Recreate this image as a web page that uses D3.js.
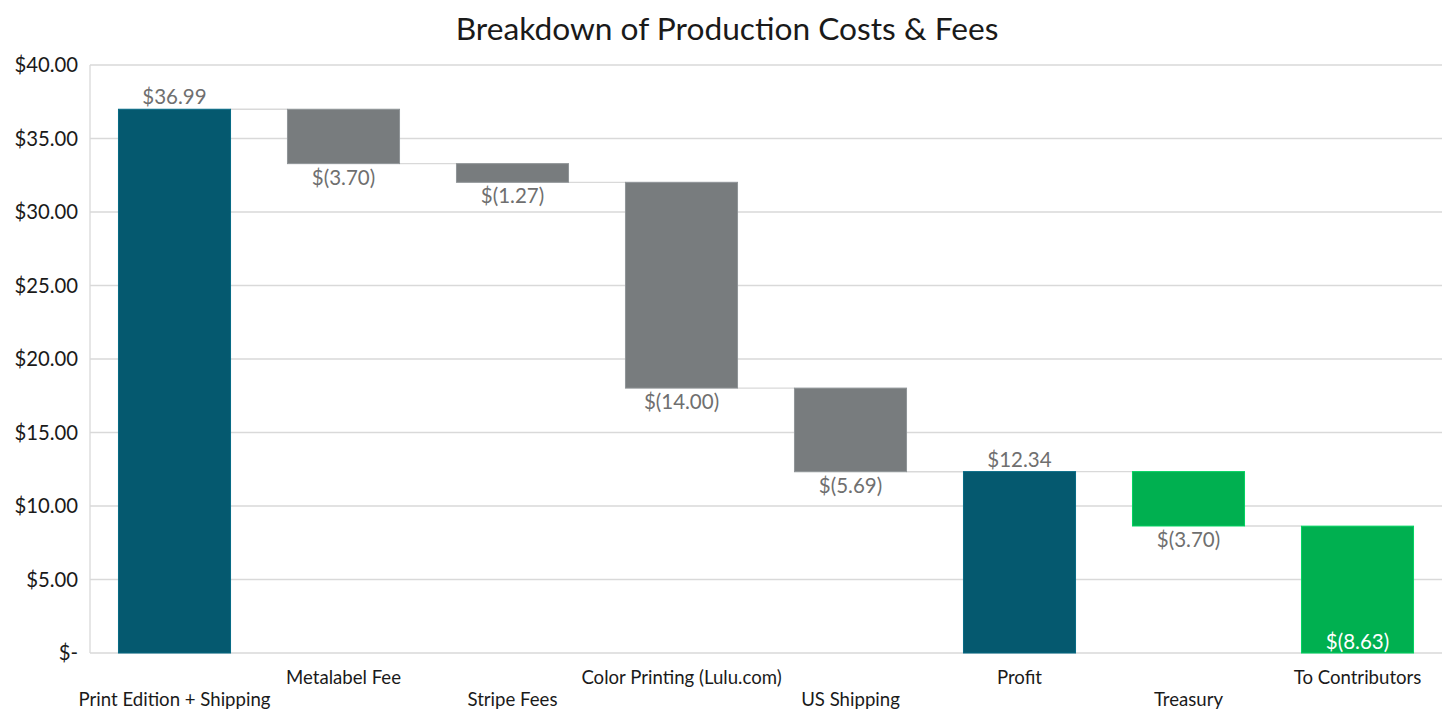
<!DOCTYPE html>
<html><head><meta charset="utf-8">
<script src="https://cdn.jsdelivr.net/npm/d3@7"></script>
<style>body{margin:0;background:#fff;font-family:Lato,"Open Sans",sans-serif;}</style>
</head><body><svg id="c" width="1456" height="720"></svg>
<script>
const title = "Breakdown of Production Costs & Fees";
const categories = ["Print Edition + Shipping","Metalabel Fee","Stripe Fees","Color Printing (Lulu.com)","US Shipping","Profit","Treasury","To Contributors"];
const values = [36.99, -3.70, -1.27, -14.00, -5.69, 12.34, -3.70, -8.63];
const kinds = ["total","cost","cost","cost","cost","total","split","final"];
const labels = ["$36.99","$(3.70)","$(1.27)","$(14.00)","$(5.69)","$12.34","$(3.70)","$(8.63)"];
const yTicks = [0,5,10,15,20,25,30,35,40];
const yTickLabels = ["$-","$5.00","$10.00","$15.00","$20.00","$25.00","$30.00","$35.00","$40.00"];

const colors = {total:"#05596f", cost:"#787c7e", split:"#00b050", final:"#00b050"};
const svg = d3.select("#c");
const L=90,R=1442,T=65,B=653;
const x = d3.scaleBand().domain(categories).range([L,R]).paddingInner(0.337).paddingOuter(0.1685);
const y = d3.scaleLinear().domain([0,40]).range([B,T]);

let run=0; const segs=[];
values.forEach((v,i)=>{
  const k=kinds[i];
  if(k==="total"){ run=v; segs.push({y0:0,y1:v}); }
  else if(k==="final"){ segs.push({y0:0,y1:-v}); run=-v; }
  else { const s=run; run=run+v; segs.push({y0:run,y1:s}); }
});

svg.append("g").selectAll("line").data(yTicks).join("line")
  .attr("x1",L).attr("x2",R).attr("y1",d=>y(d)).attr("y2",d=>y(d))
  .attr("stroke","#d9d9d9").attr("stroke-width",1.3);
svg.append("line").attr("x1",L).attr("x2",L).attr("y1",T).attr("y2",B).attr("stroke","#d9d9d9").attr("stroke-width",1.3);

svg.append("g").selectAll("text").data(yTicks).join("text")
  .attr("x",78).attr("y",d=>y(d)).attr("dy","0.35em").attr("text-anchor","end")
  .attr("font-size",20.3).attr("fill","#1a1a1a").text((d,i)=>yTickLabels[i]);

segs.forEach((s,i)=>{
  if(i===segs.length-1) return;
  const k=kinds[i];
  let level = (k==="total") ? s.y1 : s.y0;
  svg.append("line").attr("x1",x(categories[i])+x.bandwidth()).attr("x2",x(categories[i+1]))
    .attr("y1",y(level)).attr("y2",y(level)).attr("stroke","#d9d9d9").attr("stroke-width",1.3);
});

svg.append("g").selectAll("rect").data(segs).join("rect")
  .attr("x",(d,i)=>x(categories[i])).attr("width",x.bandwidth())
  .attr("y",d=>y(d.y1)).attr("height",d=>y(d.y0)-y(d.y1))
  .attr("fill",(d,i)=>colors[kinds[i]])
  .attr("stroke",(d,i)=>d3.color(colors[kinds[i]]).brighter(0.5)).attr("stroke-width",1);

svg.append("g").selectAll("text").data(segs).join("text")
  .attr("x",(d,i)=>x(categories[i])+x.bandwidth()/2)
  .attr("y",(d,i)=>{
    const k=kinds[i];
    if(k==="total") return y(d.y1)-5;
    if(k==="final") return y(d.y0)-4;
    return y(d.y0)+21;
  })
  .attr("text-anchor","middle").attr("font-size",20.5)
  .attr("fill",(d,i)=>kinds[i]==="final"?"#ffffff":"#6f6f6f")
  .text((d,i)=>labels[i]);

svg.append("g").selectAll("text").data(categories).join("text")
  .attr("x",d=>x(d)+x.bandwidth()/2).attr("y",(d,i)=>i%2===0?706:684)
  .attr("text-anchor","middle").attr("font-size",18.6).attr("fill","#1a1a1a").text(d=>d);

svg.append("text").attr("x",727).attr("y",40).attr("text-anchor","middle")
  .attr("font-size",31.7).attr("fill","#1a1a1a").text(title);
</script></body></html>
